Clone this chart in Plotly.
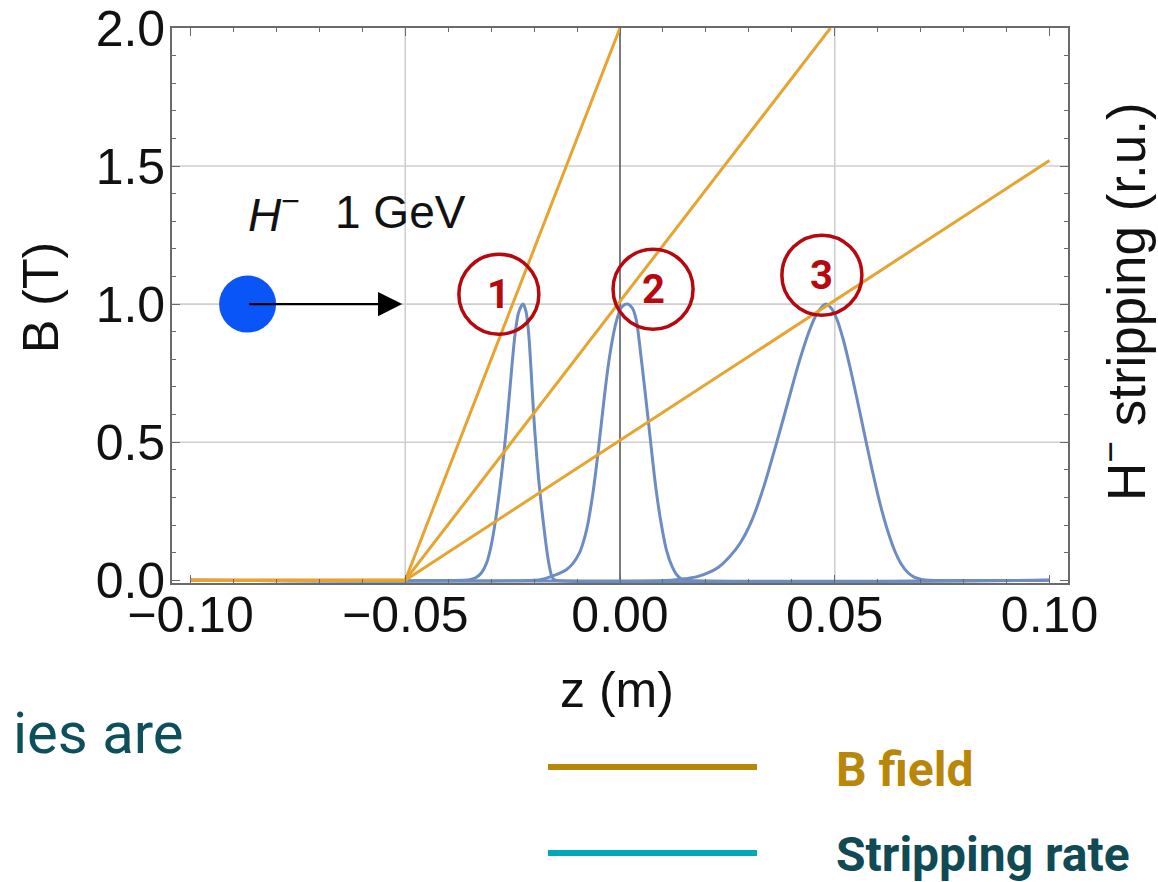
import plotly.graph_objects as go

# ---- B field profiles (T) along z (m) for three gradients ----
z_field_1 = [-0.10, -0.05, 0.000]
B_field_1 = [0.0, 0.0, 2.00]
z_field_2 = [-0.10, -0.05, 0.049]
B_field_2 = [0.0, 0.0, 2.00]
z_field_3 = [-0.10, -0.05, 0.100]
B_field_3 = [0.0, 0.0, 1.52]

# ---- H- stripping rate (relative units) for each field profile ----
z_strip_1 = [-0.1000, -0.0365, -0.0350, -0.0335, -0.0322, -0.0310, -0.0300, -0.0290,
             -0.0280, -0.0270, -0.0261, -0.0252, -0.0244, -0.0236, -0.02256,
             -0.0219, -0.0213, -0.0207, -0.0201, -0.0195, -0.0189, -0.0183,
             -0.0177, -0.0171, -0.0165, -0.0160, -0.0155, -0.0150, 0.1000]
r_strip_1 = [0.0, 0.0, 0.002, 0.010, 0.028, 0.065, 0.125, 0.215,
             0.330, 0.465, 0.610, 0.770, 0.895, 0.970, 1.000,
             0.975, 0.900, 0.760, 0.600, 0.470, 0.360, 0.270,
             0.190, 0.115, 0.055, 0.020, 0.004, 0.0, 0.0]

z_strip_2 = [-0.1000, -0.0200, -0.0180, -0.0160, -0.0140, -0.0125, -0.0110, -0.0095,
             -0.0085, -0.0076, -0.0068, -0.0060, -0.0052, -0.0044, -0.0036,
             -0.0028, -0.0019, -0.0009, 0.0002, 0.0012, 0.0019, 0.0029,
             0.0038, 0.00481, 0.0060, 0.00713, 0.0083, 0.00946, 0.0108,
             0.01217, 0.0132, 0.01434, 0.0155, 0.1000]
r_strip_2 = [0.0, 0.0, 0.004, 0.014, 0.026, 0.038, 0.060, 0.097,
             0.140, 0.195, 0.265, 0.350, 0.450, 0.560, 0.670,
             0.770, 0.860, 0.935, 0.985, 0.999, 1.000, 0.985,
             0.942, 0.821, 0.660, 0.501, 0.340, 0.217, 0.110,
             0.048, 0.020, 0.004, 0.0, 0.0]

z_strip_3 = [-0.1000, 0.0120, 0.0145, 0.0180, 0.0210, 0.0230, 0.0255, 0.0280,
             0.0307, 0.0335, 0.0365, 0.0390, 0.0415, 0.0440, 0.0460, 0.0478,
             0.0492, 0.0505, 0.0520, 0.0535, 0.0550, 0.0565, 0.0580, 0.0595,
             0.0610, 0.0625, 0.0640, 0.0655, 0.0670, 0.0685, 0.0702, 0.0720, 0.1000]
r_strip_3 = [0.0, 0.0, 0.004, 0.013, 0.030, 0.048, 0.085, 0.135,
             0.217, 0.340, 0.500, 0.640, 0.780, 0.900, 0.970, 1.000,
             0.985, 0.945, 0.870, 0.775, 0.670, 0.560, 0.450, 0.345,
             0.250, 0.170, 0.105, 0.058, 0.028, 0.011, 0.003, 0.0, 0.0]

# incoming ion
ion_z = [-0.0867]
ion_B = [1.0]
arrow_tip_z = -0.0507

# axis ticks
x_ticks = [-0.10, -0.05, 0.00, 0.05, 0.10]
y_ticks = [0.0, 0.5, 1.0, 1.5, 2.0]
x_grid = [-0.05, 0.05]
y_grid = [0.5, 1.0, 1.5]

# circled case labels
case_z = [-0.0282, 0.0077, 0.0470]
case_B = [1.036, 1.054, 1.105]
case_labels = ["1", "2", "3"]

# ---- layout geometry (pixels) ----
FIG_W, FIG_H = 1158, 882
L, R, T, B = 172, 90, 28, 299
PW = FIG_W - L - R
PH = FIG_H - T - B
X_RANGE = [-0.1043, 0.1043]
Y_RANGE = [-0.01, 2.0]


def px_x(px):
    return (px - L) / PW


def px_y(py):
    return (FIG_H - B - py) / PH


ORANGE = "#E6A431"
BLUE = "#6C8CC2"
RED = "#B5090F"
AXIS_FONT = "Liberation Sans, Arial, sans-serif"

fig = go.Figure()

for zz, rr in [(z_strip_1, r_strip_1), (z_strip_2, r_strip_2), (z_strip_3, r_strip_3)]:
    fig.add_trace(go.Scatter(x=zz, y=rr, mode="lines",
                             line=dict(color=BLUE, width=3, shape="spline", smoothing=0.8),
                             hoverinfo="skip"))

for zz, bb in [(z_field_1, B_field_1), (z_field_2, B_field_2), (z_field_3, B_field_3)]:
    fig.add_trace(go.Scatter(x=zz, y=bb, mode="lines",
                             line=dict(color=ORANGE, width=3), hoverinfo="skip"))

fig.add_trace(go.Scatter(x=ion_z, y=ion_B, mode="markers",
                         marker=dict(size=57, color="#0A55F8", line=dict(width=0)),
                         hoverinfo="skip"))

shapes = []
for gx in x_grid:
    shapes.append(dict(type="line", xref="x", yref="paper", x0=gx, x1=gx, y0=0, y1=1,
                       line=dict(color="#CFCFCF", width=1.6), layer="below"))
for gy in y_grid:
    shapes.append(dict(type="line", xref="paper", yref="y", x0=0, x1=1, y0=gy, y1=gy,
                       line=dict(color="#CFCFCF", width=1.6), layer="below"))
shapes.append(dict(type="line", xref="x", yref="paper", x0=0, x1=0, y0=0, y1=1,
                   line=dict(color="#5A5A5A", width=1.6), layer="below"))

rx = 40 / (PW / (X_RANGE[1] - X_RANGE[0]))
ry = 40 / (PH / (Y_RANGE[1] - Y_RANGE[0]))
for cz, cb in zip(case_z, case_B):
    shapes.append(dict(type="circle", xref="x", yref="y",
                       x0=cz - rx, x1=cz + rx, y0=cb - ry, y1=cb + ry,
                       line=dict(color=RED, width=3.5), layer="above"))

# slide legend lines
shapes.append(dict(type="line", xref="paper", yref="paper",
                   x0=px_x(548), x1=px_x(757), y0=px_y(767), y1=px_y(767),
                   line=dict(color="#B8870A", width=6)))
shapes.append(dict(type="line", xref="paper", yref="paper",
                   x0=px_x(548), x1=px_x(757), y0=px_y(853), y1=px_y(853),
                   line=dict(color="#00A9BA", width=6)))

annotations = []
for cz, cb, lab in zip(case_z, case_B, case_labels):
    annotations.append(dict(x=cz, y=cb, xref="x", yref="y", text="<b>%s</b>" % lab,
                            xanchor="center", yanchor="middle",
                            showarrow=False, font=dict(family="Roboto", size=40, color=RED)))

annotations.append(dict(x=arrow_tip_z, y=ion_B[0], ax=ion_z[0], ay=ion_B[0],
                        xref="x", yref="y", axref="x", ayref="y", text="",
                        showarrow=True, arrowhead=2, arrowsize=2.2, arrowwidth=2.2,
                        arrowcolor="black", standoff=0, startstandoff=0))

annotations.append(dict(x=px_x(246), y=px_y(212), xref="paper", yref="paper",
                        xanchor="left", yanchor="middle", showarrow=False,
                        text="<i>H</i><sup>−</sup>",
                        font=dict(family=AXIS_FONT, size=46, color="#111")))
annotations.append(dict(x=px_x(333), y=px_y(212), xref="paper", yref="paper",
                        xanchor="left", yanchor="middle", showarrow=False,
                        text="1 GeV",
                        font=dict(family=AXIS_FONT, size=46, color="#111")))

# axis titles
annotations.append(dict(x=px_x(41), y=px_y(298), xref="paper", yref="paper",
                        xanchor="center", yanchor="middle",
                        text="B (T)", textangle=-90, showarrow=False,
                        font=dict(family=AXIS_FONT, size=50, color="#111")))
annotations.append(dict(x=px_x(1122), y=px_y(302), xref="paper", yref="paper",
                        xanchor="center", yanchor="middle",
                        text="H<sup>−</sup> stripping (r.u.)", textangle=-90, showarrow=False,
                        font=dict(family=AXIS_FONT, size=53, color="#111")))
annotations.append(dict(x=px_x(617), y=px_y(690), xref="paper", yref="paper",
                        xanchor="center", yanchor="middle",
                        text="z (m)", showarrow=False,
                        font=dict(family=AXIS_FONT, size=50, color="#111")))

# slide text around the figure
annotations.append(dict(x=px_x(186), y=px_y(733), xref="paper", yref="paper",
                        xanchor="right", yanchor="middle", text="ies are", showarrow=False,
                        font=dict(family="Roboto", size=58, color="#0D4F5A")))
annotations.append(dict(x=px_x(834), y=px_y(769), xref="paper", yref="paper",
                        xanchor="left", yanchor="middle", text="<b>B field</b>", showarrow=False,
                        font=dict(family="Roboto", size=48, color="#B8870A")))
annotations.append(dict(x=px_x(834), y=px_y(855), xref="paper", yref="paper",
                        xanchor="left", yanchor="middle", text="<b>Stripping rate</b>",
                        showarrow=False,
                        font=dict(family="Roboto", size=48, color="#0F4A55")))

axis_common = dict(showline=True, linecolor="#6A6A6A", linewidth=1.6, mirror="ticks",
                   ticks="inside", tickcolor="#6A6A6A", tickwidth=1.4, ticklen=8,
                   showgrid=False, zeroline=False, automargin=False,
                   tickfont=dict(family=AXIS_FONT, size=50, color="#111"))

fig.update_layout(
    width=FIG_W, height=FIG_H,
    margin=dict(l=L, r=R, t=T, b=B),
    paper_bgcolor="white", plot_bgcolor="white",
    showlegend=False,
    shapes=shapes, annotations=annotations,
    xaxis=dict(range=X_RANGE, tickvals=x_ticks, tickformat=".2f", ticklabelstandoff=-13,
               minor=dict(dtick=0.01, tick0=0, ticks="inside", ticklen=4,
                          tickcolor="#6A6A6A", tickwidth=1.2, showgrid=False),
               **axis_common),
    yaxis=dict(range=Y_RANGE, tickvals=y_ticks, tickformat=".1f", ticklabelstandoff=-5,
               minor=dict(dtick=0.1, tick0=0, ticks="inside", ticklen=4,
                          tickcolor="#6A6A6A", tickwidth=1.2, showgrid=False),
               **axis_common),
)

fig.write_html("out.html")
